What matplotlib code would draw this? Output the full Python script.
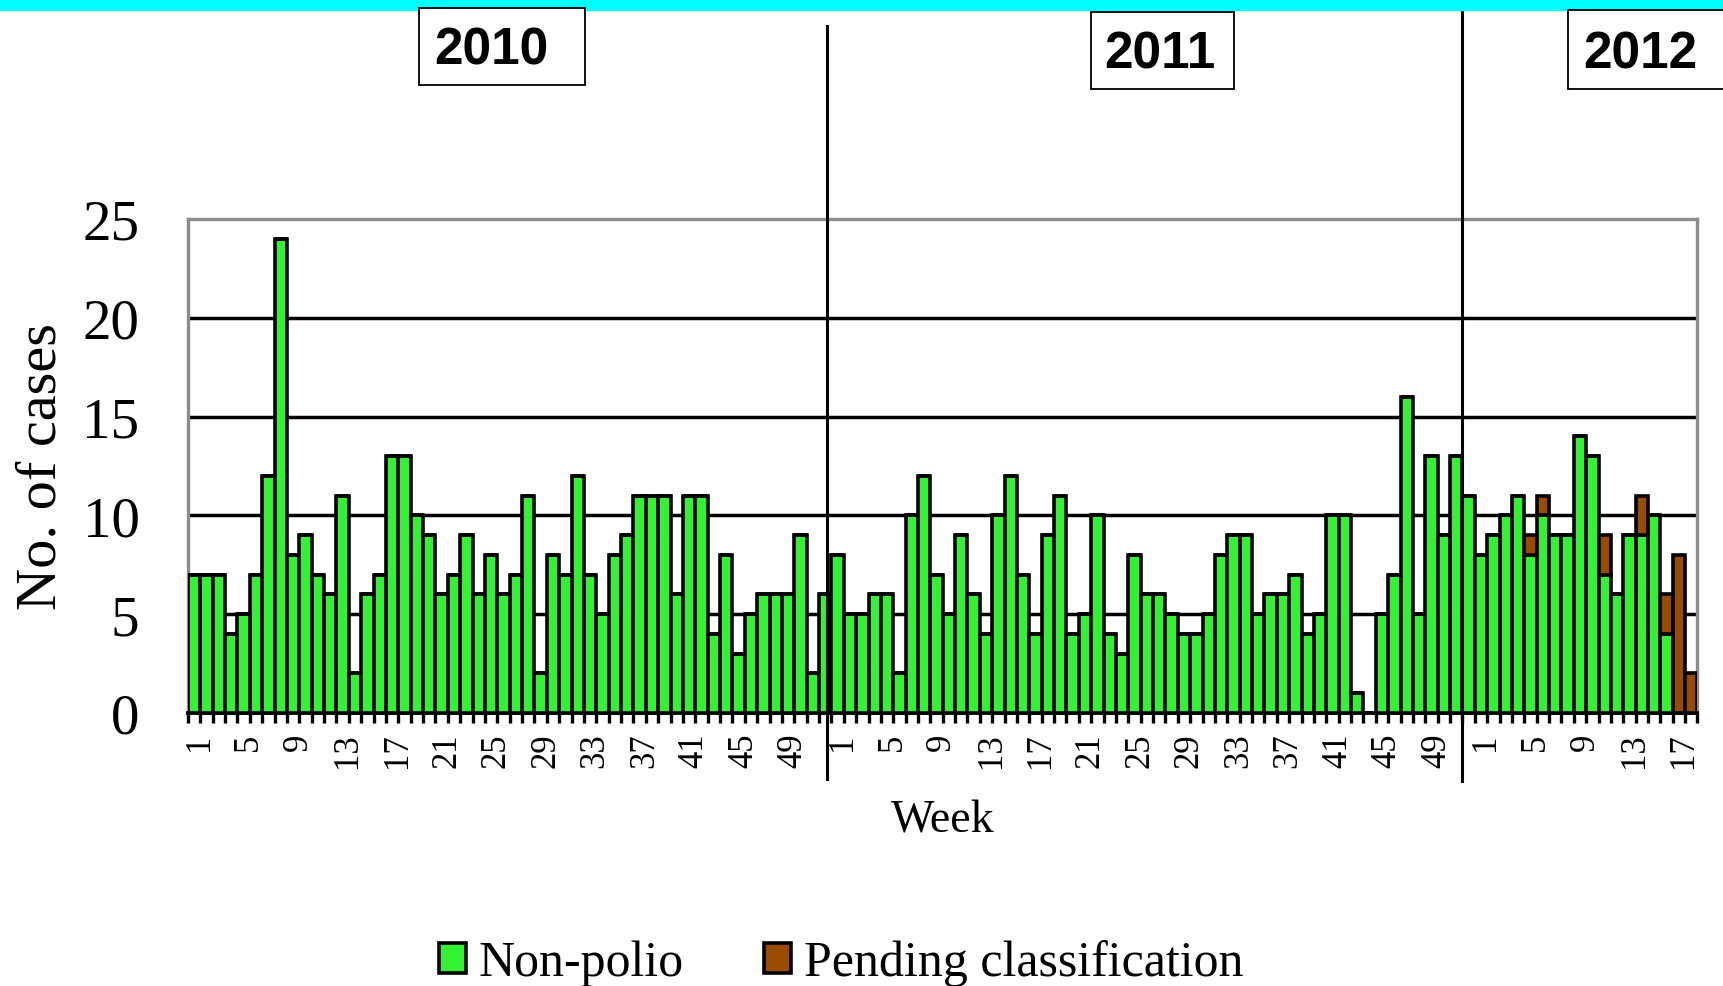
import matplotlib
matplotlib.use('Agg')
import matplotlib.pyplot as plt
import numpy as np
from matplotlib.patches import Rectangle
from matplotlib.transforms import blended_transform_factory, ScaledTranslation

plt.rcParams['font.family'] = ['Liberation Serif', 'DejaVu Serif']

########################################################
# Weekly AFP cases
########################################################
years = ['2010', '2011', '2012']

non_polio_2010 = [7, 7, 7, 4, 5, 7, 12, 24, 8, 9, 7, 6, 11, 2, 6, 7, 13, 13, 10, 9,
                  6, 7, 9, 6, 8, 6, 7, 11, 2, 8, 7, 12, 7, 5, 8, 9, 11, 11, 11, 6,
                  11, 11, 4, 8, 3, 5, 6, 6, 6, 9, 2, 6]
non_polio_2011 = [8, 5, 5, 6, 6, 2, 10, 12, 7, 5, 9, 6, 4, 10, 12, 7, 4, 9, 11, 4,
                  5, 10, 4, 3, 8, 6, 6, 5, 4, 4, 5, 8, 9, 9, 5, 6, 6, 7, 4, 5,
                  10, 10, 1, 0, 5, 7, 16, 5, 13, 9, 13, 11]
non_polio_2012 = [8, 9, 10, 11, 8, 10, 9, 9, 14, 13, 7, 6, 9, 9, 10, 4, 0, 0]
pending_2012 = [0, 0, 0, 0, 1, 1, 0, 0, 0, 0, 2, 0, 0, 2, 0, 2, 8, 2]

non_polio = non_polio_2010 + non_polio_2011 + non_polio_2012
pending = [0] * (len(non_polio_2010) + len(non_polio_2011)) + pending_2012
week_no = (list(range(1, len(non_polio_2010) + 1)) + list(range(1, len(non_polio_2011) + 1))
           + list(range(1, len(non_polio_2012) + 1)))
x = np.arange(len(non_polio))
week_no = np.array(week_no)

green = '#33F233'
brown = '#994C00'

########################################################
# Figure
########################################################
W, H = 1723, 987
fig = plt.figure(figsize=(W / 100, H / 100), dpi=100)
ax = fig.add_axes([188 / W, 1 - 714 / H, (1697.5 - 188) / W, (714 - 220) / H])

b1 = ax.bar(x, non_polio, width=1.0, color=green, edgecolor='black', linewidth=2.6,
            label='Non-polio', zorder=3)
b2 = ax.bar(x, pending, bottom=non_polio, width=1.0, color=brown, edgecolor='black',
            linewidth=2.6, label='Pending classification', zorder=3)

ax.set_xlim(-0.5, len(x) - 0.5)
ax.set_ylim(0, 25)
yticks = [0, 5, 10, 15, 20, 25]
ax.set_yticks(yticks)
ax.tick_params(axis='y', length=0, pad=35, labelsize=41)
ax.hlines(yticks[1:-1], -0.5, len(x) - 0.5, colors='black', lw=2.5, zorder=1)

# labelled weeks 1, 5, 9, ...
mask = (week_no % 4) == 1
ax.set_xticks(x[mask])
ax.set_xticklabels(week_no[mask], rotation=90, fontsize=25)
ax.tick_params(axis='x', which='major', length=0, pad=14)
ax.set_xticks(np.arange(-0.5, len(x)), minor=True)
ax.tick_params(axis='x', which='minor', length=7, width=2.4, direction='out', color='black')
for lab in ax.get_xticklabels():
    lab.set_transform(lab.get_transform() + ScaledTranslation(5 / 100, 0, fig.dpi_scale_trans))

for s in ['top', 'left', 'right']:
    ax.spines[s].set_color('#8c8c8c')
    ax.spines[s].set_linewidth(2.4)
ax.spines['bottom'].set_color('black')
ax.spines['bottom'].set_linewidth(2.8)

# year dividers
trans = blended_transform_factory(ax.transData, fig.transFigure)
ax.plot([51.15, 51.15], [1 - 27 / H, 1 - 780 / H], transform=trans, clip_on=False,
        color='black', lw=2.2, zorder=5)
ax.plot([102.5, 102.5], [1 - 11 / H, 1 - 782 / H], transform=trans, clip_on=False,
        color='black', lw=2.2, zorder=5)

# cyan band on top
fig.patches.append(Rectangle((0, 1 - 11 / H), 1, 11 / H, transform=fig.transFigure,
                             color='#00FFFF', zorder=0))

# year boxes
boxes = [(419, 9, 585, 86), (1091, 13, 1234, 90), (1568, 11, 1745, 90)]
text_pos = [(491, 51), (1160, 55), (1640, 55)]
for (x0, y0, x1, y1), (tx, ty), yr in zip(boxes, text_pos, years):
    fig.patches.append(Rectangle((x0 / W, 1 - y1 / H), (x1 - x0) / W, (y1 - y0) / H,
                                 transform=fig.transFigure, facecolor='white',
                                 edgecolor='black', lw=1.3, zorder=1))
    fig.text(tx / W, 1 - ty / H, yr, ha='center', va='center', fontsize=37,
             fontweight='bold', family=['Liberation Sans Narrow', 'Liberation Sans'])

fig.text(42 / W, 1 - 467 / H, 'No. of cases', rotation=90, ha='center', va='center',
         fontsize=42)
fig.text(943 / W, 1 - 833 / H, 'Week', ha='center', va='baseline', fontsize=33)

fig.legend([b1, b2], ['Non-polio', 'Pending classification'], loc='center',
           bbox_to_anchor=(841 / W, 1 - 964 / H), ncol=2, frameon=False, fontsize=36,
           handlelength=0.55, handleheight=0.55, handletextpad=0.25, columnspacing=1.6,
           borderpad=0)

fig.savefig('out.png', dpi=100)
